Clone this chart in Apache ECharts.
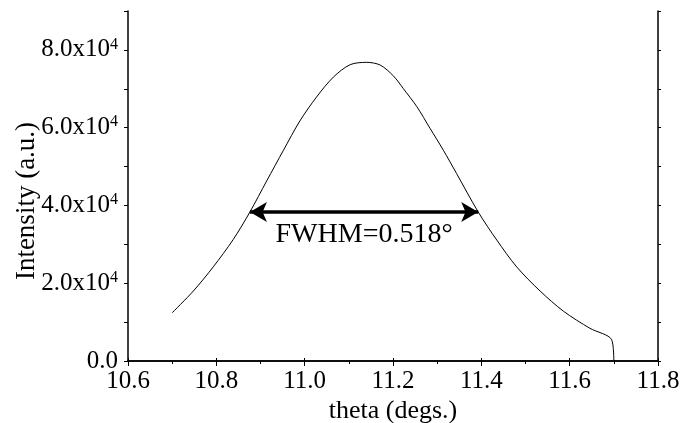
<!DOCTYPE html>
<html>
<head>
<meta charset="utf-8">
<script src="https://cdn.jsdelivr.net/npm/echarts@6/dist/echarts.min.js"></script>
<style>
  html, body { margin: 0; padding: 0; background: #fff; }
  #main { width: 698px; height: 423px; }
</style>
</head>
<body>
<div id="main"></div>
<script>
// values
var theta = [10.700, 10.748, 10.793, 10.838, 10.876, 10.914, 10.952, 10.989, 11.027,
             11.065, 11.103, 11.140, 11.171, 11.201, 11.223, 11.254, 11.284, 11.314,
             11.344, 11.393, 11.435, 11.480, 11.533, 11.586, 11.646, 11.695, 11.700];
var intensity = [12400, 18000, 24200, 31200, 38300, 46300, 54200, 61700, 67900,
                 73000, 76200, 76800, 76100, 73300, 70100, 65400, 59800, 54200,
                 48200, 38300, 31100, 24200, 18000, 12800, 8400, 5500, 0];
var fwhmEnds = [10.876, 11.393];
var fwhmLevel = 38300;
var fwhmText = 'FWHM=0.518\u00b0';
var yTickLabels = { 0: '0.0', 20000: '2.0x10', 40000: '4.0x10', 60000: '6.0x10', 80000: '8.0x10' };

var serif = 'Liberation Serif';
var myChart = echarts.init(document.getElementById('main'));

var points = theta.map(function (t, i) { return [t, intensity[i]]; });

var option = {
    backgroundColor: '#fff',
    animation: false,
    grid: { left: 128, right: 40, top: 11, bottom: 62, outerBoundsMode: 'none' },
    xAxis: [{
        type: 'value',
        min: 10.6, max: 11.8, interval: 0.2,
        name: 'theta (degs.)',
        nameLocation: 'middle',
        nameGap: 37,
        nameMoveOverlap: false,
        nameTextStyle: { fontFamily: serif, fontSize: 26, color: '#000' },
        axisLine: { onZero: false, lineStyle: { color: '#000', width: 1.5 } },
        axisTick: { inside: false, length: 5, lineStyle: { color: '#000' } },
        minorTick: { show: true, splitNumber: 2, length: 3, lineStyle: { color: '#000' } },
        splitLine: { show: false },
        axisLabel: {
            fontFamily: serif, fontSize: 25, color: '#000', margin: 8,
            formatter: function (v) { return v.toFixed(1); }
        }
    }, {
        type: 'value', position: 'top',
        min: 10.6, max: 11.8, interval: 0.2,
        axisLine: { lineStyle: { color: '#000', width: 1.5 } },
        axisTick: { length: 3, lineStyle: { color: '#000' } },
        axisLabel: { show: false },
        splitLine: { show: false }
    }],
    yAxis: [{
        type: 'value',
        min: 0, max: 90000, interval: 10000,
        name: 'Intensity (a.u.)',
        nameLocation: 'middle',
        nameGap: 88,
        nameMoveOverlap: false,
        nameTextStyle: { fontFamily: serif, fontSize: 27, color: '#000', padding: [0, 30, 0, 0] },
        axisLine: { show: true, onZero: false, lineStyle: { color: '#000', width: 1.5 } },
        axisTick: { length: 4, lineStyle: { color: '#000' } },
        splitLine: { show: false },
        axisLabel: {
            margin: 10,
            formatter: function (v) {
                if (!(v in yTickLabels)) { return ''; }
                if (v === 0) { return '{b|0.0}'; }
                return '{b|' + yTickLabels[v] + '}{s|4}';
            },
            rich: {
                b: { fontFamily: serif, fontSize: 25, color: '#000', lineHeight: 27 },
                s: { fontFamily: serif, fontSize: 16, color: '#000', verticalAlign: 'top', lineHeight: 15 }
            }
        }
    }, {
        type: 'value', position: 'right',
        min: 0, max: 90000, interval: 10000,
        axisLine: { show: true, lineStyle: { color: '#000', width: 1.5 } },
        axisTick: { length: 3, lineStyle: { color: '#000' } },
        axisLabel: { show: false },
        splitLine: { show: false }
    }],
    series: [{
        type: 'line',
        data: points,
        showSymbol: false,
        smooth: 0.3,
        lineStyle: { color: '#000', width: 1 },
        markLine: {
            silent: true,
            symbol: ['arrow', 'arrow'],
            symbolSize: [15, 17],
            lineStyle: { color: '#000', width: 3.5, type: 'solid' },
            label: {
                show: true,
                position: 'insideMiddleBottom',
                distance: 9,
                formatter: fwhmText,
                fontFamily: serif, fontSize: 28, color: '#000'
            },
            data: [[{ coord: [fwhmEnds[0], fwhmLevel] }, { coord: [fwhmEnds[1], fwhmLevel] }]]
        }
    }]
};

myChart.setOption(option);
</script>
</body>
</html>
